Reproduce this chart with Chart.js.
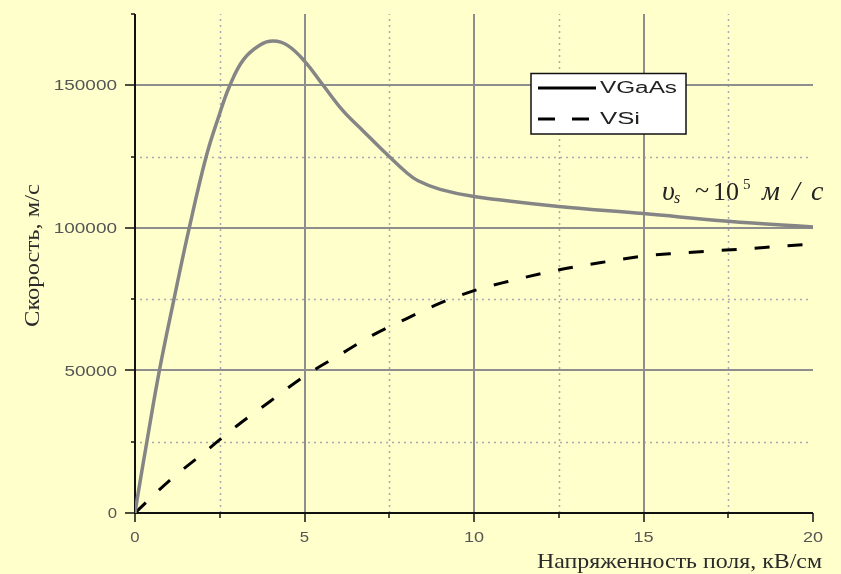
<!DOCTYPE html>
<html>
<head>
<meta charset="utf-8">
<script src="https://cdn.jsdelivr.net/npm/chart.js@4.4.0/dist/chart.umd.min.js"></script>
<style>
  html, body { margin: 0; padding: 0; background: #ffffcc; }
  #wrap { width: 841px; height: 574px; }
</style>
</head>
<body>
<div id="wrap"><canvas id="velocityChart"></canvas></div>
<script>
// Field strength, kV/cm and drift velocity, m/s
const fieldGaAs = [0, 0.08, 0.35, 0.72, 1.15, 1.6, 2.1, 2.46, 2.8, 3.2, 3.7, 4.08, 4.5, 5.0, 5.55, 6.14, 6.73, 7.5, 8.0, 8.35, 9.0, 10, 12.5, 15, 17.5, 20];
const velGaAs = [0, 6000, 25000, 50000, 75000, 100000, 125000, 138700, 150000, 159000, 164200, 165500, 164000, 158500, 150000, 141000, 134000, 125000, 119500, 116500, 113500, 111000, 107500, 105000, 102300, 100300];

const fieldSi = [0, 1, 2, 3, 4, 5, 6, 7, 8, 9, 10, 11, 12, 13, 14, 15, 16, 17, 18, 19, 20];
const velSi = [0, 11200, 20800, 30500, 39300, 48000, 55200, 62300, 68100, 73600, 78000, 81200, 84000, 86400, 88300, 90100, 91100, 91900, 92600, 93500, 94300];

const xTicks = [0, 5, 10, 15, 20];
const xMinor = [2.5, 7.5, 12.5, 17.5];
const yTicks = [0, 50000, 100000, 150000];
const yMinor = [25000, 75000, 125000, 175000];

const seriesNames = ['VGaAs', 'VSi'];
const xTitle = 'Напряженность поля, кВ/см';
const yTitle = 'Скорость, м/с';

// the original picture is stretched sideways, so text is drawn squeezed/stretched to a width
function fitText(ctx, text, x, y, width) {
  const w = ctx.measureText(text).width;
  ctx.save();
  ctx.textAlign = 'left';
  ctx.translate(x, y);
  ctx.scale(width / w, 1);
  ctx.fillText(text, 0, 0);
  ctx.restore();
}

function tickWidth(label) {
  // about 11px per digit in the reference
  return label.length * 10.8 - 1.5;
}

const axesPlugin = {
  id: 'axesPlugin',
  beforeDraw(chart) {
    const ctx = chart.ctx;
    ctx.save();
    ctx.fillStyle = '#ffffcc';
    ctx.fillRect(0, 0, chart.width, chart.height);
    ctx.restore();
  },
  beforeDatasetsDraw(chart) {
    const ctx = chart.ctx;
    const x = chart.scales.x, y = chart.scales.y;
    const a = chart.chartArea;
    ctx.save();

    // minor dotted grid
    ctx.strokeStyle = '#a9a9b4';
    ctx.lineWidth = 1.5;
    ctx.setLineDash([2, 4]);
    xMinor.forEach(v => {
      const px = Math.round(x.getPixelForValue(v)) + 0.5;
      ctx.beginPath(); ctx.moveTo(px, a.bottom); ctx.lineTo(px, a.top); ctx.stroke();
    });
    yMinor.forEach(v => {
      if (v >= y.max) return;
      const py = Math.round(y.getPixelForValue(v)) + 0.5;
      ctx.beginPath(); ctx.moveTo(a.left + 5, py); ctx.lineTo(a.right - 4, py); ctx.stroke();
    });

    // major grid
    ctx.setLineDash([]);
    ctx.strokeStyle = '#8e8e8e';
    ctx.lineWidth = 2;
    xTicks.forEach(v => {
      if (v === x.min || v === x.max) return;
      const px = Math.round(x.getPixelForValue(v));
      ctx.beginPath(); ctx.moveTo(px, a.bottom); ctx.lineTo(px, a.top); ctx.stroke();
    });
    yTicks.forEach(v => {
      if (v === y.min) return;
      const py = Math.round(y.getPixelForValue(v));
      ctx.beginPath(); ctx.moveTo(a.left, py); ctx.lineTo(a.right, py); ctx.stroke();
    });

    // axes lines and tick marks
    ctx.strokeStyle = '#111';
    ctx.lineWidth = 2;
    ctx.beginPath();
    ctx.moveTo(a.left, a.top); ctx.lineTo(a.left, a.bottom); ctx.lineTo(a.right, a.bottom);
    ctx.stroke();
    ctx.lineWidth = 1.5;
    yTicks.forEach(v => {
      const py = Math.round(y.getPixelForValue(v));
      ctx.beginPath(); ctx.moveTo(a.left - 10, py); ctx.lineTo(a.left, py); ctx.stroke();
    });
    yMinor.forEach(v => {
      const py = Math.round(y.getPixelForValue(v));
      ctx.beginPath(); ctx.moveTo(a.left - 4, py); ctx.lineTo(a.left, py); ctx.stroke();
    });
    xTicks.forEach(v => {
      const px = Math.round(x.getPixelForValue(v));
      ctx.beginPath(); ctx.moveTo(px, a.bottom); ctx.lineTo(px, a.bottom + 9); ctx.stroke();
    });
    xMinor.forEach(v => {
      const px = Math.round(x.getPixelForValue(v));
      ctx.beginPath(); ctx.moveTo(px, a.bottom); ctx.lineTo(px, a.bottom + 5); ctx.stroke();
    });

    // tick labels
    ctx.fillStyle = '#555';
    ctx.font = '15px "Liberation Sans", Arial, sans-serif';
    ctx.textBaseline = 'middle';
    yTicks.forEach(v => {
      const label = String(v);
      const w = tickWidth(label);
      fitText(ctx, label, a.left - 18 - w, y.getPixelForValue(v) + 1, w);
    });
    xTicks.forEach(v => {
      const label = String(v);
      const w = tickWidth(label);
      fitText(ctx, label, x.getPixelForValue(v) - w / 2, a.bottom + 25, w);
    });

    // axis titles
    ctx.fillStyle = '#2a2a2a';
    ctx.textBaseline = 'alphabetic';
    ctx.font = '21px "Liberation Serif", "Times New Roman", serif';
    fitText(ctx, xTitle, 537, 568, 285);

    ctx.save();
    ctx.translate(39, 256);
    ctx.rotate(-Math.PI / 2);
    ctx.font = '20px "Liberation Serif", "Times New Roman", serif';
    fitText(ctx, yTitle, -71, 0, 143);
    ctx.restore();

    ctx.restore();
  },
  afterDatasetsDraw(chart) {
    const ctx = chart.ctx;
    ctx.save();

    // legend box
    ctx.fillStyle = '#ffffff';
    ctx.fillRect(531, 73, 155, 61);
    ctx.strokeStyle = '#111';
    ctx.lineWidth = 1.5;
    ctx.strokeRect(531, 73.5, 155, 60.5);

    ctx.lineWidth = 3;
    ctx.strokeStyle = '#000';
    ctx.beginPath(); ctx.moveTo(538, 88); ctx.lineTo(596, 88); ctx.stroke();
    ctx.setLineDash([17, 17]);
    ctx.beginPath(); ctx.moveTo(538, 119); ctx.lineTo(592, 119); ctx.stroke();
    ctx.setLineDash([]);

    ctx.fillStyle = '#222';
    ctx.font = '16px "Liberation Sans", Arial, sans-serif';
    ctx.textBaseline = 'middle';
    fitText(ctx, seriesNames[0], 600, 89, 77);
    fitText(ctx, seriesNames[1], 600, 120, 40);

    // saturation velocity note
    ctx.fillStyle = '#222';
    ctx.textBaseline = 'alphabetic';
    ctx.textAlign = 'left';
    const it = 'italic 28px "Liberation Serif", "Times New Roman", serif';
    const rg = '26px "Liberation Serif", "Times New Roman", serif';
    ctx.font = it; ctx.fillText('υ', 662, 200);
    ctx.font = 'italic 16px "Liberation Serif", serif'; ctx.fillText('s', 674, 203);
    ctx.font = rg; ctx.fillText('~', 695, 198);
    ctx.fillText('10', 713, 200);
    ctx.font = '15px "Liberation Serif", serif'; ctx.fillText('5', 743, 189);
    ctx.font = it; ctx.fillText('м', 762, 200);
    ctx.fillText('/', 792, 200);
    ctx.fillText('c', 811, 200);

    ctx.restore();
  }
};

const ctx = document.querySelector('#velocityChart').getContext('2d');

const velocityChart = new Chart(ctx, {
  type: 'line',
  data: {
    datasets: [
      {
        label: seriesNames[0],
        data: fieldGaAs.map((f, i) => ({ x: f, y: velGaAs[i] })),
        borderColor: '#858585',
        borderWidth: 3.5,
        pointRadius: 0,
        tension: 0.4,
        fill: false
      },
      {
        label: seriesNames[1],
        data: fieldSi.map((f, i) => ({ x: f, y: velSi[i] })),
        borderColor: '#000000',
        borderWidth: 3,
        borderDash: [15, 18],
        pointRadius: 0,
        cubicInterpolationMode: 'monotone',
        fill: false
      }
    ]
  },
  options: {
    responsive: true,
    maintainAspectRatio: false,
    animation: false,
    layout: { padding: { left: 135, right: 28, top: 14, bottom: 61 } },
    scales: {
      x: { type: 'linear', min: 0, max: 20, display: false },
      y: { type: 'linear', min: 0, max: 175000, display: false }
    },
    plugins: {
      legend: { display: false },
      tooltip: { enabled: false },
      title: { display: false }
    }
  },
  plugins: [axesPlugin]
});
</script>
</body>
</html>
